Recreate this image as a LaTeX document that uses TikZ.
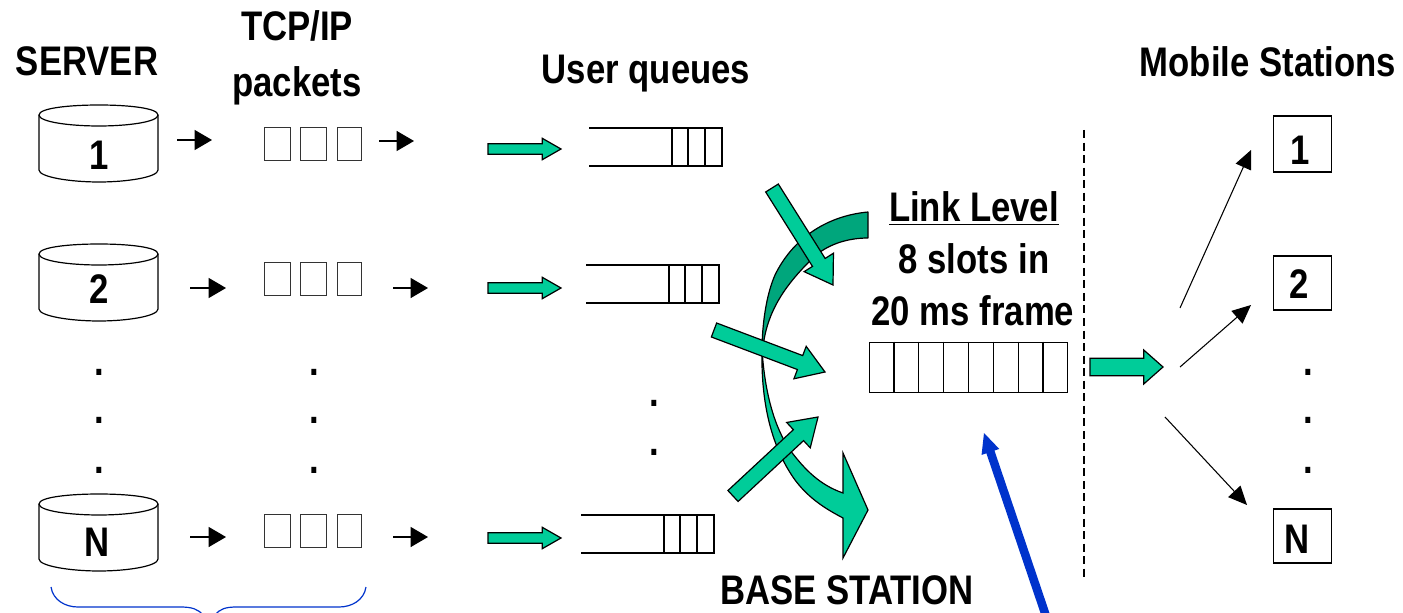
\documentclass[tikz,border=0pt]{standalone}
\usepackage{fontspec}
\setmainfont[FakeStretch=0.84]{Liberation Sans}
\usetikzlibrary{calc,arrows.meta}
\definecolor{tealg}{HTML}{00CC99}
\definecolor{darkg}{HTML}{00A67C}
\definecolor{blueb}{HTML}{0033CC}
\tikzset{
  lbl/.style={font=\fontsize{31pt}{34pt}\selectfont\bfseries,anchor=base,inner sep=0pt,text=black},
  box/.style={draw=black,line width=0.9pt,inner sep=0pt,fill=white},
  pkt/.style={draw=black!80,line width=0.8pt,inner sep=0pt,minimum width=19.5pt,minimum height=25pt},
  thin arrow/.style={draw=black,line width=0.8pt,-{Triangle[length=14pt,width=15pt]}},
  ms arrow/.style={draw=black,line width=0.8pt,-{Triangle[length=14pt,width=12.5pt]}},
  blockg/.style={fill=tealg,draw=black,line width=0.9pt,line join=miter},
  cyl/.style={draw=black,line width=0.9pt,fill=white}
}
% #1 style, #2 tail, #3 tip, #4 shaft half, #5 head half, #6 head length (pt)
\newcommand{\blockarrow}[6]{%
  \coordinate (hb) at ($(#3)!#6!(#2)$);
  \path[#1] ($(#2)!#4!90:(#3)$) -- ($(hb)!#4!90:(#3)$) -- ($(hb)!#5!90:(#3)$) -- (#3)
    -- ($(hb)!#5!-90:(#3)$) -- ($(hb)!#4!-90:(#3)$) -- ($(#2)!#4!-90:(#3)$) -- cycle;
}
\newcommand{\cylinder}[2]{% top y, name
  \draw[cyl] (39,#1+10) .. controls (39,#1+3) and (70,#1) .. (99,#1)
     .. controls (128,#1) and (158,#1+3) .. (158,#1+10)
     -- (158,#1+65) .. controls (158,#1+72) and (128,#1+77) .. (99,#1+77)
     .. controls (70,#1+77) and (39,#1+72) .. (39,#1+65) -- cycle;
  \draw[cyl,fill=none] (39,#1+10) .. controls (39,#1+17) and (70,#1+21) .. (99,#1+21)
     .. controls (128,#1+21) and (158,#1+17) .. (158,#1+10);
}
\newcommand{\queue}[3]{% left x, top y, name
  \draw[line width=0.9pt] (#1,#2) -- (#1+133,#2) -- (#1+133,#2+38) -- (#1,#2+38);
  \draw[line width=0.9pt] (#1+83,#2) -- (#1+83,#2+38) (#1+99,#2) -- (#1+99,#2+38) (#1+116,#2) -- (#1+116,#2+38);
  \coordinate (#3) at (#1,#2+21);
}
\begin{document}
\begin{tikzpicture}[x=0.75pt,y=-0.75pt]
\useasboundingbox (0,0) rectangle (1403,613);
\clip (0,0) rectangle (1403,613);

% titles
\node[lbl] (tserver) at (87,76) {SERVER};
\node[lbl] (ttcp) at (297,41) {TCP/IP};
\node[lbl] (tpack) at (297,97) {packets};
\node[lbl] (tuser) at (646,84) {User queues};
\node[lbl] (tmob) at (1268,77) {Mobile Stations};
\node[lbl] (tlink) at (974,222) {\underline{Link Level}};
\node[lbl] (tslots) at (974,273) {8 slots in};
\node[lbl] (tframe) at (973,325) {20 ms frame};
\node[lbl] (tbase) at (847,604) {BASE STATION};

% servers
\cylinder{105}{s1}
\cylinder{244}{s2}
\cylinder{494}{sN}
\node[lbl] (n1) at (99,170) {1};
\node[lbl] (n2) at (99,303) {2};
\node[lbl] (nN) at (97,556) {N};

% packets
\foreach \yy/\r in {144/a,279/b,531/c}{
  \node[pkt] (p1\r) at (277.5,\yy) {};
  \node[pkt] (p2\r) at (313.5,\yy) {};
  \node[pkt,minimum width=17.5pt] (p3\r) at (349.5,\yy) {};
}

% thin arrows
\coordinate (a1) at (177,140); \coordinate (a2) at (212,140);
\coordinate (a3) at (379,141); \coordinate (a4) at (414,141);
\coordinate (b1) at (190,288); \coordinate (b2) at (226,288);
\coordinate (b3) at (393,288); \coordinate (b4) at (428,288);
\coordinate (c1) at (190,537); \coordinate (c2) at (226,537);
\coordinate (c3) at (393,537); \coordinate (c4) at (428,537);
\foreach \p/\q in {a1/a2,a3/a4,b1/b2,b3/b4,c1/c2,c3/c4}{\draw[thin arrow,-{Triangle[length=13pt,width=15pt]}] (\p) -- (\q);}

% dots
\foreach \xx in {99,314,1308}{
  \foreach \yy in {375,423,473}{ \node[lbl] at (\xx,\yy) {.}; }
}
\node[lbl] at (654,406) {.};
\node[lbl] at (654,455) {.};

% queues
\queue{589}{128}{q1}
\queue{586}{265}{q2}
\queue{581}{515}{q3}

% small block arrows
\coordinate (ga1) at (488,149); \coordinate (gb1) at (561,149);
\coordinate (ga2) at (488,288); \coordinate (gb2) at (561,288);
\coordinate (ga3) at (488,538); \coordinate (gb3) at (561,538);
\blockarrow{blockg}{ga1}{gb1}{3.9pt}{8pt}{14pt}
\blockarrow{blockg}{ga2}{gb2}{3.9pt}{8pt}{14pt}
\blockarrow{blockg}{ga3}{gb3}{3.9pt}{8pt}{14pt}

% curved arrow
\path[fill=darkg,draw=black,line width=0.9pt,line join=round]
  (868,212) .. controls (825,216) and (792,240) .. (775,275)
  .. controls (764,300) and (762,335) .. (762,350)
  -- (764,340) .. controls (770,305) and (790,280) .. (815,256)
  .. controls (830,243) and (850,238) .. (868,238) -- cycle;
\path[fill=tealg,draw=black,line width=0.9pt,line join=miter]
  (762,350) .. controls (761,400) and (770,445) .. (795,480)
  .. controls (810,500) and (828,510) .. (843,518)
  -- (843,558) -- (868,510) -- (843,453) -- (843,493)
  .. controls (820,485) and (805,470) .. (790,450)
  .. controls (775,428) and (765,395) .. (762,350) -- cycle;

% big block arrows
\coordinate (ba1) at (772,188); \coordinate (bb1) at (833,285);
\coordinate (ba2) at (714,330); \coordinate (bb2) at (825,372);
\coordinate (ba3) at (733,496); \coordinate (bb3) at (818,417);
\blockarrow{blockg}{ba1}{bb1}{5.6pt}{13pt}{20pt}
\blockarrow{blockg}{ba2}{bb2}{5.6pt}{13pt}{20pt}
\blockarrow{blockg}{ba3}{bb3}{5.6pt}{13pt}{20pt}

% frame
\node[box,fill=none,minimum width=148pt,minimum height=38pt] (frame) at (968.5,367.5) {};
\foreach \i in {1,...,7}{\draw[line width=0.9pt] ($(frame.north west)!\i/8!(frame.north east)$) -- ($(frame.south west)!\i/8!(frame.south east)$);}

% dashed separator
\coordinate (d1) at (1084,130); \coordinate (d2) at (1084,578);
\draw[line width=0.9pt,dash pattern=on 6pt off 3.4pt] (d1) -- (d2);

% right block arrow
\coordinate (ra) at (1090,367); \coordinate (rb) at (1163,367);
\blockarrow{blockg}{ra}{rb}{6.6pt}{12.8pt}{14.5pt}

% mobile stations
\node[box,minimum width=44pt,minimum height=42pt] (m1) at (1302.5,144) {};
\node[box,minimum width=44pt,minimum height=40.5pt] (m2) at (1302.5,283) {};
\node[box,minimum width=44pt,minimum height=40.5pt] (mN) at (1302.5,536) {};
\node[lbl] (l1) at (1300,165) {1};
\node[lbl] (l2) at (1299,298) {2};
\node[lbl] (lN) at (1297,553) {N};

\coordinate (e1) at (1180,308); \coordinate (f1) at (1251,150);
\coordinate (e2) at (1180,367); \coordinate (f2) at (1251,305);
\coordinate (e3) at (1165,417); \coordinate (f3) at (1247,505);
\draw[ms arrow] (e1) -- (f1);
\draw[ms arrow] (e2) -- (f2);
\draw[ms arrow] (e3) -- (f3);

% blue arrow
\coordinate (bl1) at (1046,616); \coordinate (bl2) at (984,433);
\blockarrow{fill=blueb,draw=none}{bl1}{bl2}{3.2pt}{7pt}{15pt}

% brace
\draw[blueb,line width=0.9pt] (51,587) .. controls (53,600) and (65,607) .. (78,607)
  -- (180,607) .. controls (192,607) and (198,609) .. (203,615);
\draw[blueb,line width=0.9pt] (366,587) .. controls (364,600) and (352,607) .. (339,607)
  -- (237,607) .. controls (225,607) and (220,609) .. (215,615);
\end{tikzpicture}
\end{document}
